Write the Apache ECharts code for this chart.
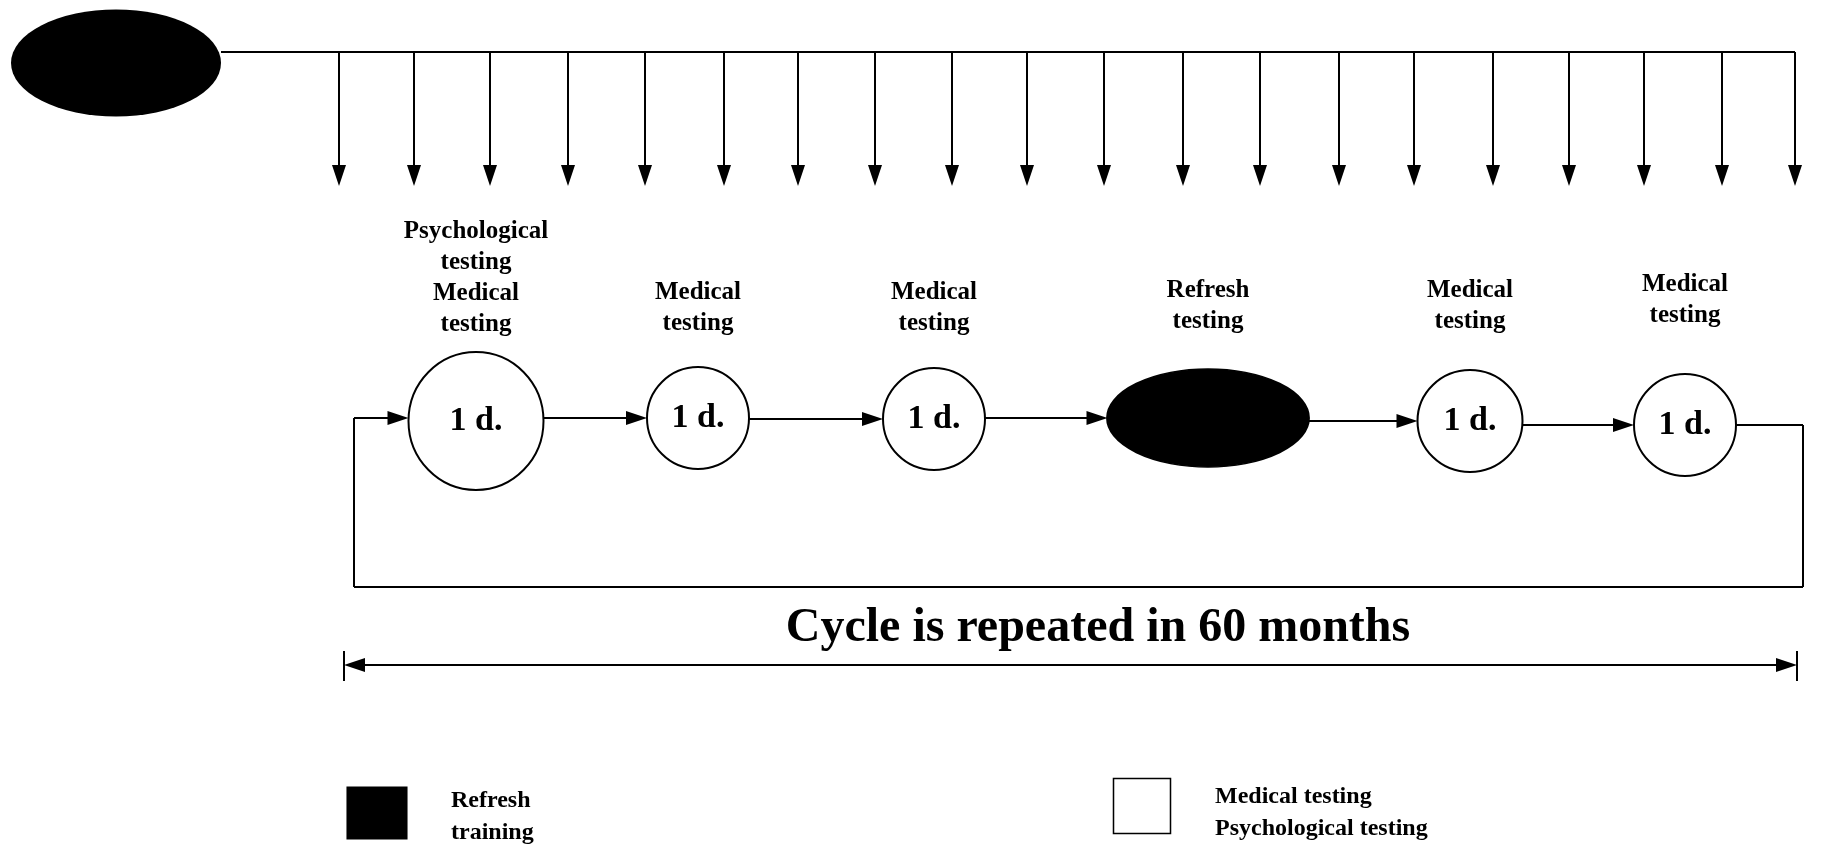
<!DOCTYPE html>
<html><head><meta charset="utf-8">
<script src="https://cdn.jsdelivr.net/npm/echarts@6/dist/echarts.min.js"></script>
<style>html,body{margin:0;padding:0;background:#fff}#c{width:1822px;height:851px}</style>
</head><body><div id="c"></div>
<script>
// ---------- data ----------
const stageTitles = ['Psychological\ntesting\nMedical\ntesting', 'Medical\ntesting', 'Medical\ntesting', 'Refresh\ntesting', 'Medical\ntesting', 'Medical\ntesting'];
const stageContent = ['1 d.', '1 d.', '1 d.', '', '1 d.', '1 d.'];
const stageKind = ['test', 'test', 'test', 'refresh', 'test', 'test'];
const checkpoints = ['3', '6', '9', '12', '15', '18', '21', '24', '27', '30', '33', '36', '39', '42', '45', '48', '51', '54', '57', '60'];
const cycleTitle = 'Cycle is repeated in 60 months';
const legendLabels = ['Refresh\ntraining', 'Medical testing\nPsychological testing'];
const legendKinds = ['refresh', 'test'];

// ---------- layout (diagram units = pixels) ----------
const stageX = [476, 698, 934, 1208, 1470, 1685];
const stageY = [421, 418, 419, 418, 421, 425];
const stageW = [135, 102, 102, 201, 105, 102];
const stageH = [138, 102, 102, 98, 102, 102];
const stageTitleY = [278, 308, 308, 306, 306, 300];
const checkpointX = [339, 414, 490, 568, 645, 724, 798, 875, 952, 1027, 1104, 1183, 1260, 1339, 1414, 1493, 1569, 1644, 1722, 1795];
const startNode = { x: 116, y: 63, w: 210, h: 107 };
const busY = 52, tipY = 186;
const loopRight = 1803, loopBottom = 587, loopLeft = 354;
const spanY = 665, spanL = 344, spanR = 1797;
const titlePos = [1098, 629];
const legendBox = [[377, 813, 60, 52], [1142, 806, 57, 55]];
const legendText = [[451, 817], [1215, 813]];

const HL = 21, HW = 14; // arrowhead length / width
const black = '#000';
const font = 'Liberation Serif';

const plain = [];
const heads = []; // [x, y, rotateDeg]
plain.push([[startNode.x + startNode.w / 2, busY], [checkpointX[checkpointX.length - 1], busY]]);
checkpointX.forEach(x => {
  plain.push([[x, busY], [x, tipY - HL / 2]]);
  heads.push([x, tipY - HL / 2, 180]);
});
for (let i = 0; i < stageX.length - 1; i++) {
  const y = stageY[i + 1];
  const tip = stageX[i + 1] - stageW[i + 1] / 2;
  plain.push([[stageX[i] + stageW[i] / 2, y], [tip - HL / 2, y]]);
  heads.push([tip - HL / 2, y, -90]);
}
const last = stageX.length - 1;
plain.push([[stageX[last] + stageW[last] / 2, stageY[last]], [loopRight, stageY[last]]]);
plain.push([[loopRight, stageY[last]], [loopRight, loopBottom]]);
plain.push([[loopRight, loopBottom], [loopLeft, loopBottom]]);
plain.push([[loopLeft, loopBottom], [loopLeft, stageY[0] - 3]]);
{
  const tip = stageX[0] - stageW[0] / 2;
  plain.push([[loopLeft, stageY[0] - 3], [tip - HL / 2, stageY[0] - 3]]);
  heads.push([tip - HL / 2, stageY[0] - 3, -90]);
}
// span arrow
plain.push([[spanL + HL / 2, spanY], [spanR - HL / 2, spanY]]);
heads.push([spanL + HL / 2, spanY, 90]);
heads.push([spanR - HL / 2, spanY, -90]);
plain.push([[spanL, spanY - 14], [spanL, spanY + 16]]);
plain.push([[spanR, spanY - 14], [spanR, spanY + 16]]);

const textItem = { color: '#fff', opacity: 1 };
const chart = echarts.init(document.getElementById('c'));
chart.setOption({
  backgroundColor: '#fff',
  animation: false,
  grid: { left: 0, right: 0, top: 0, bottom: 0 },
  xAxis: { type: 'value', min: 0, max: 1822, show: false },
  yAxis: { type: 'value', min: 0, max: 851, inverse: true, show: false },
  series: [
    {
      type: 'lines', coordinateSystem: 'cartesian2d', symbol: 'none',
      lineStyle: { color: black, width: 2, opacity: 1, curveness: 0 },
      data: plain.map(c => ({ coords: c })), z: 1
    },
    {
      type: 'scatter', symbol: 'triangle', symbolSize: [HW, HL], z: 2,
      itemStyle: { color: black, opacity: 1 },
      data: heads.map(h => ({ value: [h[0], h[1]], symbolRotate: h[2] }))
    },
    {
      type: 'scatter', symbol: 'circle', z: 3,
      data: [{ value: [startNode.x, startNode.y], symbolSize: [startNode.w, startNode.h] }],
      itemStyle: { color: black, opacity: 1 }
    },
    {
      type: 'scatter', symbol: 'circle', z: 3,
      data: stageX.map((x, i) => ({
        value: [x, stageY[i]], symbolSize: [stageW[i], stageH[i]], name: stageContent[i],
        itemStyle: stageKind[i] === 'refresh'
          ? { color: black, borderColor: black, borderWidth: 2, opacity: 1 }
          : { color: '#fff', borderColor: black, borderWidth: 2, opacity: 1 }
      })),
      label: {
        show: true, position: 'inside', formatter: p => p.name,
        fontFamily: font, fontWeight: 'bold', fontSize: 34, color: black
      }
    },
    {
      type: 'scatter', symbolSize: 0, z: 4, itemStyle: textItem,
      data: stageTitles.map((t, i) => ({ value: [stageX[i], stageTitleY[i]], name: t })),
      label: {
        show: true, position: 'inside', formatter: p => p.name, align: 'center',
        fontFamily: font, fontWeight: 'bold', fontSize: 25, lineHeight: 31, color: black
      }
    },
    {
      type: 'scatter', symbolSize: 0, z: 4, itemStyle: textItem,
      data: [{ value: titlePos, name: cycleTitle }],
      label: {
        show: true, position: 'inside', formatter: p => p.name,
        fontFamily: font, fontWeight: 'bold', fontSize: 48, color: black
      }
    },
    {
      type: 'scatter', symbol: 'rect', z: 3,
      data: legendBox.map((b, i) => ({
        value: [b[0], b[1]], symbolSize: [b[2], b[3]],
        itemStyle: legendKinds[i] === 'refresh'
          ? { color: black, borderColor: black, borderWidth: 1, opacity: 1 }
          : { color: '#fff', borderColor: black, borderWidth: 1.5, opacity: 1 }
      }))
    },
    {
      type: 'scatter', symbolSize: 0, z: 4, itemStyle: textItem,
      data: legendLabels.map((t, i) => ({ value: legendText[i], name: t })),
      label: {
        show: true, position: 'inside', formatter: p => p.name, align: 'left',
        fontFamily: font, fontWeight: 'bold', fontSize: 24, lineHeight: 32, color: black
      }
    }
  ]
});
</script></body></html>
